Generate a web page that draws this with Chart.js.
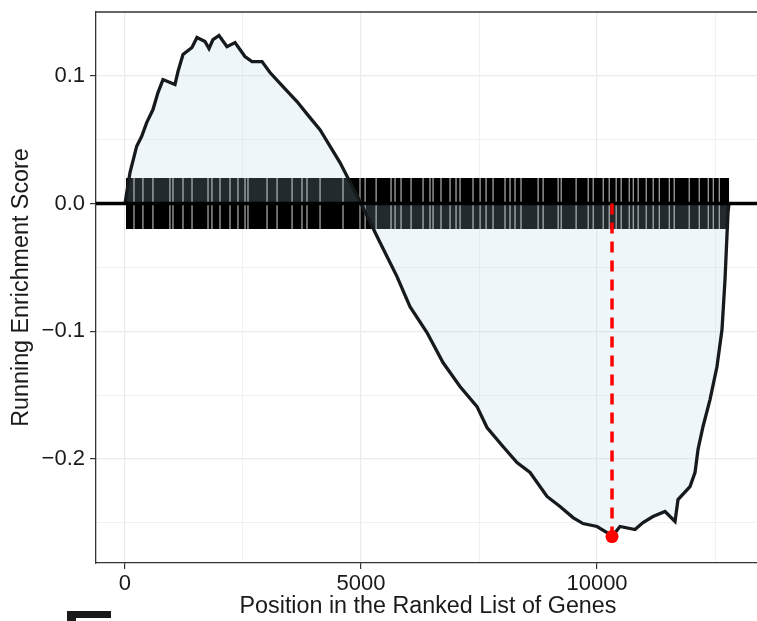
<!DOCTYPE html>
<html>
<head>
<meta charset="utf-8">
<script src="https://cdn.jsdelivr.net/npm/chart.js@4"></script>
<style>
  html, body { margin: 0; padding: 0; background: #fff; overflow: hidden; }
  #wrap { position: relative; width: 757px; height: 621px; overflow: hidden; }
  #gsea { position: absolute; left: 0; top: 0; }
</style>
</head>
<body>
<div id="wrap"><canvas id="gsea" width="760" height="621"></canvas></div>
<script>
// ---------- DATA ----------
// running enrichment score
const geneRank = [0, 106, 248, 354, 460, 593, 699, 805, 1059, 1123, 1229, 1419, 1525, 1695, 1780, 1864, 1992, 2161, 2331, 2542, 2691, 2903, 3072, 3347, 3644, 3919, 4131, 4555, 4979, 5403, 5763, 6038, 6398, 6737, 7097, 7458, 7669, 8008, 8305, 8581, 8941, 9216, 9492, 9703, 10000, 10212, 10318, 10487, 10805, 10975, 11186, 11441, 11653, 11716, 11970, 12076, 12140, 12246, 12394, 12542, 12648, 12712, 12775, 12797];
const runningES = [0, 0.0243, 0.0449, 0.0527, 0.0634, 0.0736, 0.0869, 0.0971, 0.0932, 0.1034, 0.1167, 0.1222, 0.1300, 0.1269, 0.1214, 0.1284, 0.1316, 0.1229, 0.1261, 0.1151, 0.1112, 0.1112, 0.1026, 0.0916, 0.0799, 0.0673, 0.0579, 0.0321, 0.0016, -0.0305, -0.0572, -0.0807, -0.1010, -0.1245, -0.1433, -0.1590, -0.1754, -0.1903, -0.2028, -0.2106, -0.2294, -0.2373, -0.2459, -0.2506, -0.2529, -0.2576, -0.2608, -0.2529, -0.2553, -0.2498, -0.2451, -0.2412, -0.2490, -0.2318, -0.2216, -0.2107, -0.1926, -0.1746, -0.1535, -0.1276, -0.0987, -0.0595, -0.0070, 0];

// gene set hits, as runs of hits between the thin gaps of the barcode
const hitStart = [20, 196, 386, 598, 958, 1022, 1234, 1425, 1764, 1848, 2018, 2230, 2399, 2548, 2611, 3014, 3226, 3544, 3755, 3861, 4137, 4624, 4984, 5091, 5324, 5641, 5726, 5853, 6065, 6319, 6467, 6531, 6700, 6891, 7018, 7103, 7378, 7527, 7654, 7802, 8056, 8162, 8268, 8395, 8756, 8862, 9180, 9244, 9561, 9816, 9922, 10134, 10261, 10409, 10515, 10685, 10770, 10875, 11045, 11193, 11321, 11533, 11638, 11956, 12168, 12359, 12465, 12592];
const hitEnd = [186, 376, 588, 948, 1012, 1224, 1415, 1754, 1838, 2008, 2220, 2389, 2538, 2601, 3004, 3216, 3534, 3745, 3851, 4127, 4614, 4974, 5081, 5314, 5631, 5716, 5843, 6055, 6309, 6457, 6521, 6690, 6881, 7008, 7093, 7368, 7517, 7644, 7792, 8046, 8152, 8258, 8385, 8746, 8852, 9170, 9234, 9551, 9806, 9912, 10124, 10251, 10399, 10505, 10675, 10760, 10865, 11035, 11183, 11311, 11523, 11628, 11946, 12158, 12349, 12455, 12582, 12800];
const hitHalfHeight = 0.02;

// peak (most negative) enrichment score
const peakRank = 10318;
const peakES = -0.2608;

// axis ticks
const xTicks = [0, 2500, 5000, 7500, 10000, 12500];
const xLabels = ['0', '', '5000', '', '10000', ''];
const yTicks = [-0.25, -0.2, -0.15, -0.1, -0.05, 0, 0.05, 0.1];
const yLabels = ['', '\u22120.2', '', '\u22120.1', '', '0.0', '', '0.1'];

// ---------- BUILD ----------
const curve = geneRank.map((r, i) => ({x: r, y: runningES[i]}));

const barcode = [];
hitStart.forEach((s, i) => {
  barcode.push({x: s, y: hitHalfHeight});
  barcode.push({x: hitEnd[i], y: hitHalfHeight});
  barcode.push({x: hitEnd[i], y: null});
});

const FONT = "'Liberation Sans', Arial, sans-serif";
const isMajor = (list, labels, v) => labels[list.indexOf(v)] !== '';

// no extra room for half labels, the panel runs edge to edge
function noPad(scale) {
  scale.paddingTop = 0;
  scale.paddingBottom = 0;
  scale.paddingLeft = 0;
  scale.paddingRight = 0;
}

// top border + the bit of the next panel peeking in at the bottom
const extras = {
  id: 'extras',
  afterDraw(chart) {
    const c = chart.ctx;
    const a = chart.chartArea;
    c.save();
    c.strokeStyle = '#333';
    c.lineWidth = 1.3;
    c.beginPath();
    c.moveTo(a.left, a.top);
    c.lineTo(a.right, a.top);
    c.stroke();
    c.fillStyle = '#1a1a1a';
    c.fillRect(67, 611, 44, 7);
    c.fillRect(67, 611, 9, 10);
    c.restore();
  }
};

// ---------- CHART ----------
const ctx = document.getElementById('gsea');
new Chart(ctx, {
  type: 'line',
  data: {
    datasets: [
      {
        label: 'peak',
        data: [{x: peakRank, y: peakES}],
        showLine: false,
        pointRadius: 6.5,
        pointBackgroundColor: '#ff0000',
        pointBorderWidth: 0,
        order: 0
      },
      {
        label: 'peak line',
        data: [{x: peakRank, y: 0}, {x: peakRank, y: peakES}],
        borderColor: '#ff0000',
        borderWidth: 3.5,
        borderDash: [11, 8],
        pointRadius: 0,
        order: 1
      },
      {
        label: 'zero',
        data: [{x: -1000, y: 0}, {x: 15000, y: 0}],
        borderColor: '#000',
        borderWidth: 3.5,
        pointRadius: 0,
        order: 2
      },
      {
        label: 'Running Enrichment Score',
        data: curve,
        borderColor: '#161a1c',
        borderWidth: 3.3,
        backgroundColor: 'rgba(170, 210, 225, 0.2)',
        fill: {value: 0},
        pointRadius: 0,
        tension: 0,
        order: 3
      },
      {
        label: 'hits',
        data: barcode,
        borderWidth: 0,
        borderColor: 'rgba(0,0,0,0)',
        backgroundColor: '#000',
        fill: {value: -hitHalfHeight},
        pointRadius: 0,
        spanGaps: false,
        order: 4
      }
    ]
  },
  options: {
    responsive: false,
    animation: false,
    devicePixelRatio: 1,
    layout: { autoPadding: false, padding: { top: 12, left: 0, right: 0, bottom: 0 } },
    plugins: { legend: { display: false }, tooltip: { enabled: false } },
    scales: {
      x: {
        type: 'linear',
        min: -614,
        max: 13453,
        afterBuildTicks(scale) { scale.ticks = xTicks.map(v => ({value: v})); },
        afterFit(scale) { scale.height = 58; noPad(scale); },
        grid: {
          color: '#ebebeb',
          lineWidth: (c) => isMajor(xTicks, xLabels, c.tick.value) ? 1.2 : 0.7,
          tickColor: (c) => isMajor(xTicks, xLabels, c.tick.value) ? '#333' : 'rgba(0,0,0,0)',
          tickLength: 6,
          tickWidth: 1.2
        },
        border: { color: '#333', width: 1.3 },
        ticks: {
          autoSkip: false,
          maxRotation: 0,
          padding: 2,
          color: '#1a1a1a',
          font: { family: FONT, size: 22 },
          callback: (v) => xLabels[xTicks.indexOf(v)] ?? ''
        },
        title: {
          display: true,
          text: 'Position in the Ranked List of Genes',
          color: '#1a1a1a',
          font: { family: FONT, size: 23.3 },
          padding: { top: 0, bottom: 0 }
        }
      },
      y: {
        type: 'linear',
        min: -0.2815,
        max: 0.150,
        afterBuildTicks(scale) { scale.ticks = yTicks.map(v => ({value: v})); },
        afterFit(scale) { scale.width = 96; noPad(scale); },
        grid: {
          color: '#ebebeb',
          lineWidth: (c) => isMajor(yTicks, yLabels, c.tick.value) ? 1.2 : 0.7,
          tickColor: (c) => isMajor(yTicks, yLabels, c.tick.value) ? '#333' : 'rgba(0,0,0,0)',
          tickLength: 6,
          tickWidth: 1.2
        },
        border: { color: '#333', width: 1.3 },
        ticks: {
          autoSkip: false,
          padding: 5,
          color: '#1a1a1a',
          font: { family: FONT, size: 22 },
          callback: (v) => yLabels[yTicks.indexOf(v)] ?? ''
        },
        title: {
          display: true,
          text: 'Running Enrichment Score',
          color: '#1a1a1a',
          font: { family: FONT, size: 23.3 },
          padding: { top: 8, bottom: 0 }
        }
      }
    }
  },
  plugins: [extras]
});
</script>
</body>
</html>
